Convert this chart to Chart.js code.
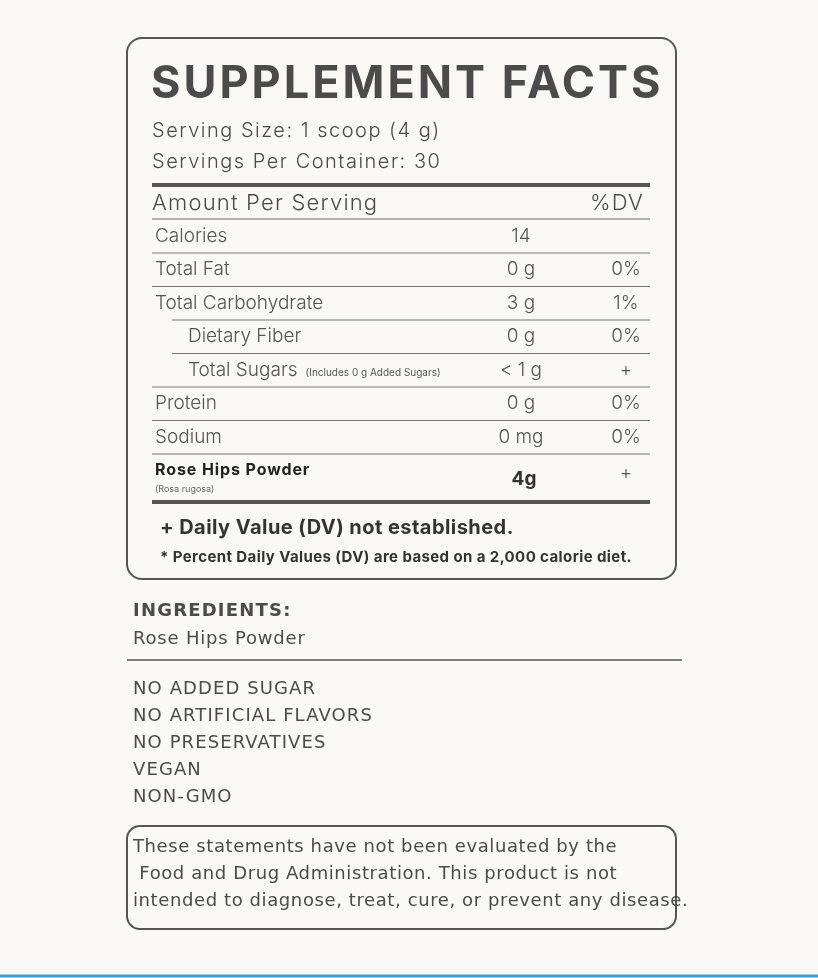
<!DOCTYPE html>
<html>
<head>
<meta charset="utf-8">
<script src="https://cdn.jsdelivr.net/npm/chart.js@4"></script>
<style>
  html, body { margin: 0; padding: 0; background: #f9f8f4; }
  #wrap { width: 818px; height: 978px; }
</style>
</head>
<body>
<div id="wrap"><canvas id="label"></canvas></div>
<script>
// label contents
const title = 'SUPPLEMENT FACTS';
const servingLines = ['Serving Size: 1 scoop (4 g)', 'Servings Per Container: 30'];
const nutrients = ['Calories', 'Total Fat', 'Total Carbohydrate', 'Dietary Fiber', 'Total Sugars', 'Protein', 'Sodium'];
const amounts = ['14', '0 g', '3 g', '0 g', '< 1 g', '0 g', '0 mg'];
const dailyValues = ['', '0%', '1%', '0%', '+', '0%', '0%'];
const indented = [false, false, false, true, true, false, false];
const notes = ['', '', '', '', '(Includes 0 g Added Sugars)', '', ''];
const ingredients = ['Rose Hips Powder'];
const claims = ['NO ADDED SUGAR', 'NO ARTIFICIAL FLAVORS', 'NO PRESERVATIVES', 'VEGAN', 'NON-GMO'];
const disclaimer = ['These statements have not been evaluated by the', ' Food and Drug Administration. This product is not', 'intended to diagnose, treat, cure, or prevent any disease.'];

function roundRect(ctx, x, y, w, h, r) {
    ctx.beginPath();
    ctx.moveTo(x + r, y);
    ctx.arcTo(x + w, y, x + w, y + h, r);
    ctx.arcTo(x + w, y + h, x, y + h, r);
    ctx.arcTo(x, y + h, x, y, r);
    ctx.arcTo(x, y, x + w, y, r);
    ctx.closePath();
    ctx.stroke();
}

function hline(ctx, x1, x2, y, w, col) {
    ctx.strokeStyle = col || '#555';
    ctx.lineWidth = w;
    ctx.beginPath();
    ctx.moveTo(x1, y);
    ctx.lineTo(x2, y);
    ctx.stroke();
}

// Plugin zeichnet das Etikett über die Achsen des Charts
const labelPlugin = {
    id: 'labelPlugin',
    afterDraw(chart) {
        const ctx = chart.ctx;
        const X = v => chart.scales.x.getPixelForValue(v);
        const Y = v => chart.scales.y.getPixelForValue(v);
        const ink = '#4b4b4b';
        ctx.save();
        ctx.textBaseline = 'middle';

        // Hauptbox
        ctx.strokeStyle = '#555';
        ctx.lineWidth = 2;
        roundRect(ctx, X(127), Y(38), X(676) - X(127), Y(579) - Y(38), 15);

        ctx.fillStyle = ink;
        ctx.font = 'bold 45px Inter';
        ctx.textAlign = 'left';
        ctx.letterSpacing = '3px';
        ctx.fillText(title, X(151), Y(84));

        ctx.font = '300 20px Inter';
        ctx.letterSpacing = '1.5px';
        servingLines.forEach((s, i) => ctx.fillText(s, X(152), Y(131 + i * 31)));
        hline(ctx, X(152), X(650), Y(185), 4, '#555');

        ctx.font = '300 22px Inter';
        ctx.letterSpacing = '1.2px';
        ctx.fillText('Amount Per Serving', X(152), Y(203));
        ctx.textAlign = 'right';
        ctx.fillText('%DV', X(644), Y(203));
        ctx.letterSpacing = '0px';
        hline(ctx, X(152), X(650), Y(219), 1.2, '#666');

        // Zeilen
        const rowStep = 33.5;
        nutrients.forEach((n, i) => {
            const cy = Y(236 + i * rowStep);
            const x0 = indented[i] ? 188 : 155;
            ctx.textAlign = 'left';
            ctx.font = '300 19px Inter';
            ctx.fillStyle = '#555';
            ctx.fillText(n, X(x0), cy);
            if (notes[i]) {
                const w = ctx.measureText(n).width;
                ctx.font = '10px Inter';
                ctx.fillText(notes[i], X(x0) + w + 8, cy + 3);
            }
            ctx.font = '300 19px Inter';
            ctx.textAlign = 'center';
            ctx.fillText(amounts[i], X(521), cy);
            ctx.fillText(dailyValues[i], X(626), cy);
            const lx = (i >= 2 && i <= 3) ? 172 : 152;
            hline(ctx, X(lx), X(650), Y(236 + i * rowStep + 17), 1, '#777');
        });

        // Rose Hips
        ctx.fillStyle = '#222';
        ctx.textAlign = 'left';
        ctx.font = 'bold 16px Inter';
        ctx.letterSpacing = '0.9px';
        ctx.fillText('Rose Hips Powder', X(155), Y(470));
        ctx.letterSpacing = '0px';
        ctx.font = '9px Inter';
        ctx.fillStyle = '#666';
        ctx.fillText('(Rosa rugosa)', X(155), Y(489));
        ctx.fillStyle = '#333';
        ctx.font = 'bold 19px Inter';
        ctx.textAlign = 'center';
        ctx.fillText('4g', X(524), Y(479));
        ctx.font = '300 19px Inter';
        ctx.fillStyle = '#555';
        ctx.fillText('+', X(626), Y(473));
        hline(ctx, X(152), X(650), Y(502), 4, '#555');

        ctx.textAlign = 'left';
        ctx.fillStyle = '#333';
        ctx.font = 'bold 20px Inter';
        ctx.letterSpacing = '0.45px';
        ctx.fillText('+ Daily Value (DV) not established.', X(160), Y(528));
        ctx.font = 'bold 15px Inter';
        ctx.letterSpacing = '0.4px';
        ctx.fillText('* Percent Daily Values (DV) are based on a 2,000 calorie diet.', X(160), Y(557));

        // Zutaten
        ctx.fillStyle = ink;
        ctx.font = 'bold 18px "DejaVu Sans"';
        ctx.letterSpacing = '1.2px';
        ctx.fillText('INGREDIENTS:', X(133), Y(611));
        ctx.letterSpacing = '0.8px';
        ctx.font = '18px "DejaVu Sans"';
        ingredients.forEach((s, i) => ctx.fillText(s, X(133), Y(639 + i * 27)));
        hline(ctx, X(127), X(682), Y(660), 1.5, '#555');
        ctx.fillStyle = ink;
        ctx.letterSpacing = '1.1px';
        claims.forEach((s, i) => ctx.fillText(s, X(133), Y(689 + i * 27)));

        // Hinweisbox
        ctx.letterSpacing = '0.6px';
        ctx.strokeStyle = '#555';
        ctx.lineWidth = 2;
        roundRect(ctx, X(127), Y(826), X(676) - X(127), Y(929) - Y(826), 13);
        ctx.font = '18px "DejaVu Sans"';
        disclaimer.forEach((s, i) => ctx.fillText(s, X(133), Y(847 + i * 27)));
        ctx.letterSpacing = '0px';

        // blaue Linie unten
        hline(ctx, X(0), X(818), Y(976), 3, '#3a9fd6');
        ctx.restore();
    }
};

new Chart(document.getElementById('label'), {
    type: 'scatter',
    data: { datasets: [{ data: [] }] },
    options: {
        responsive: true,
        maintainAspectRatio: false,
        animation: false,
        layout: { padding: 0 },
        plugins: { legend: { display: false }, tooltip: { enabled: false } },
        scales: {
            x: { type: 'linear', min: 0, max: 818, display: false },
            y: { type: 'linear', min: 0, max: 978, reverse: true, display: false }
        }
    },
    plugins: [labelPlugin]
});
</script>
</body>
</html>
